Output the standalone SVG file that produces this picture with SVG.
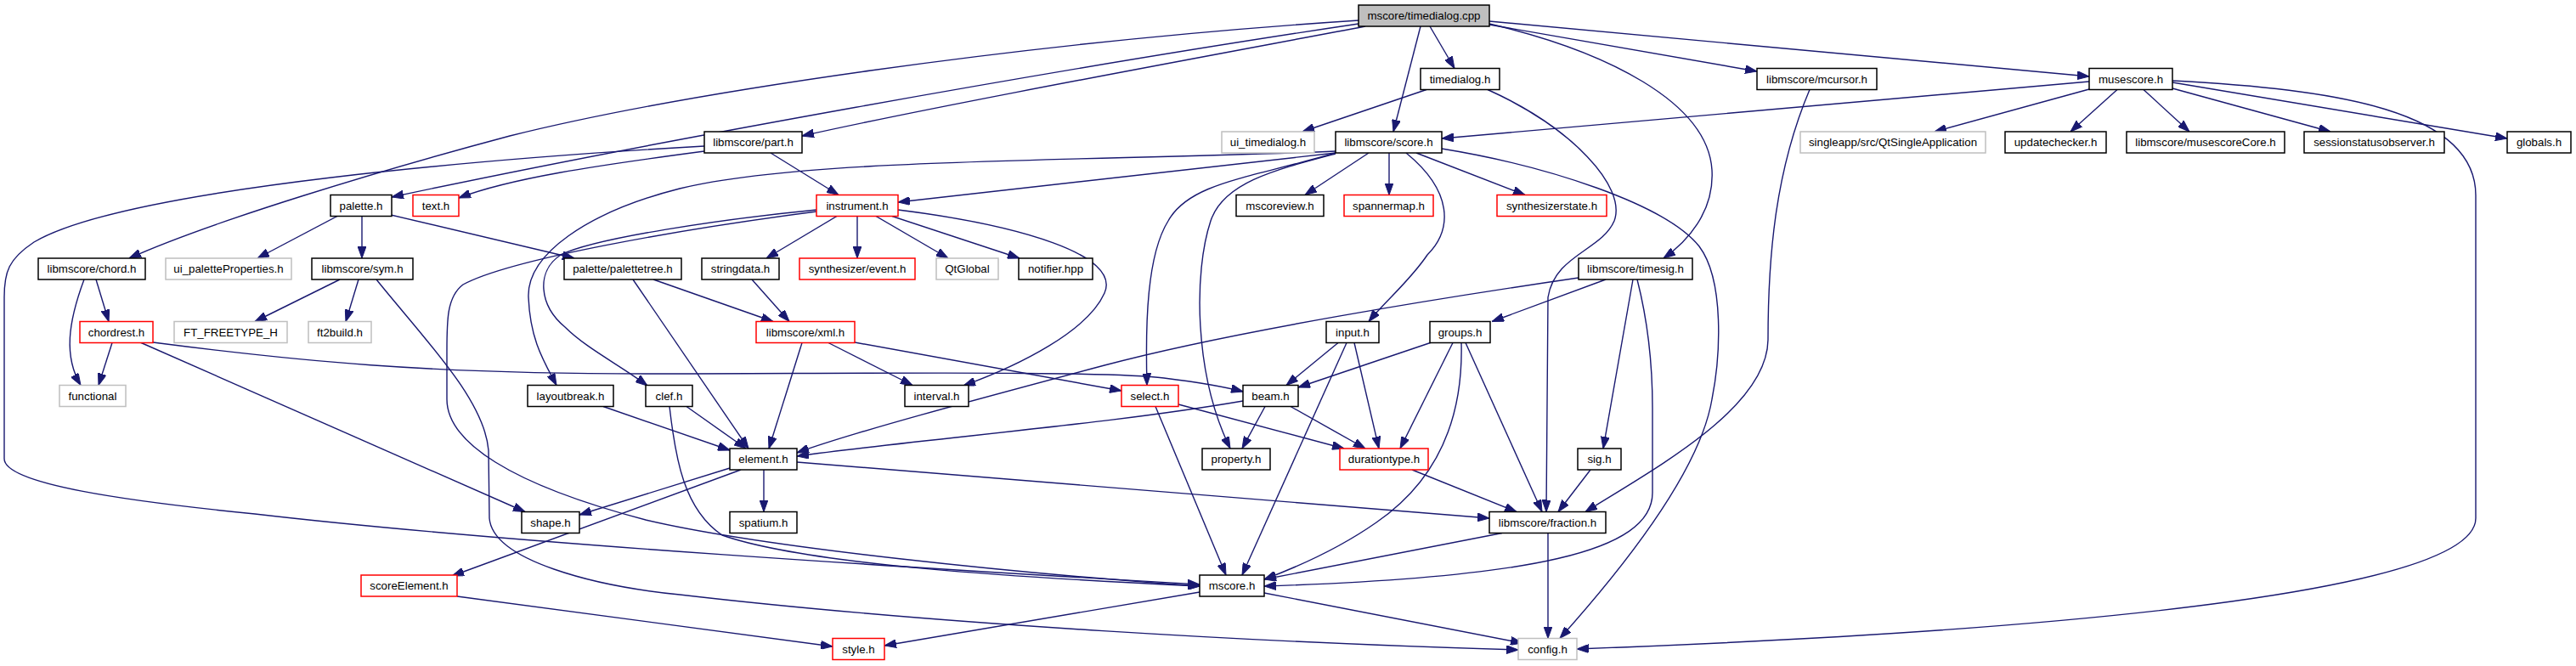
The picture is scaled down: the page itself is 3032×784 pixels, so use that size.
<svg xmlns="http://www.w3.org/2000/svg" width="3032" height="784" viewBox="0 0 3032 784">
<defs>
<style>
.n rect{fill:#ffffff;stroke:#000000;stroke-width:1.5}
.n.g rect{stroke:#bfbfbf}
.n.r rect{stroke:#ff0000}
.n.root rect{fill:#bfbfbf}
.n text{font-family:"Liberation Sans",Arial,sans-serif;font-size:13.3px;fill:#000000;text-anchor:middle}
#edges path{fill:none;stroke:#191970;stroke-width:1.4;marker-end:url(#arr)}
</style>
<marker id="arr" viewBox="0 0 14 10" refX="14" refY="5" markerWidth="14" markerHeight="10" markerUnits="userSpaceOnUse" orient="auto">
<path d="M0,0 L14,5 L0,10 z" fill="#191970" stroke="#191970" stroke-width="1"/>
</marker>
</defs>
<rect width="3032" height="784" fill="#ffffff"/>
<g id="edges">
<path d="M1683,31 L1712,80.5"/>
<path d="M1672,31 L1640,155"/>
<path d="M1753,29 L2068,84"/>
<path d="M1753,25 L2459,90"/>
<path d="M1753,28 C1890,60 2010,120 2015,200 C2018,250 1985,285 1958,304"/>
<path d="M1607,31 C1400,70 1100,125 944,160"/>
<path d="M1599,28 C1250,80 750,170 461,232"/>
<path d="M1599,24 C1200,50 800,110 600,160 C450,200 250,260 152,304"/>
<path d="M907,180 L987,229.5"/>
<path d="M829,178 C700,195 600,210 540,233"/>
<path d="M829,172 C600,185 150,220 40,285 C10,305 5,320 5,350 L5,540 C5,570 150,590 300,605 C600,640 1100,670 1412,688"/>
<path d="M985,254.5 L902,304"/>
<path d="M1009,254.5 L1009,304"/>
<path d="M1031,254.5 L1116,304"/>
<path d="M1050,254.5 L1200,304"/>
<path d="M1057,247 C1200,265 1320,300 1300,345 C1280,390 1200,430 1134,454"/>
<path d="M961,247 C850,258 700,280 660,300 C630,320 635,360 665,385 C690,410 730,430 762,454"/>
<path d="M961,249 C800,270 600,305 545,335 C525,350 526,380 526,420 L526,470 C526,520 600,570 760,612 C900,645 1200,675 1412,690"/>
<path d="M1611,180 L1536,229.5"/>
<path d="M1635,180 L1635,229.5"/>
<path d="M1667,180 L1795,229.5"/>
<path d="M1655,180 C1710,225 1710,270 1680,300 C1660,330 1630,355 1611,378.5"/>
<path d="M1697,175 C1820,195 1960,240 2000,290 C2030,330 2025,420 2015,470 C2000,560 1900,680 1836,751.5"/>
<path d="M1572,178 C1300,190 950,185 800,222 C690,250 620,300 622,350 C624,400 640,425 655,453.5"/>
<path d="M1572,180 L1057,238"/>
<path d="M1572,180 C1470,210 1400,215 1375,260 C1350,300 1348,380 1350,453.5"/>
<path d="M1572,181 C1500,200 1440,215 1425,260 C1405,320 1405,440 1448,528"/>
<path d="M2459,96 L1697,163"/>
<path d="M2459,105 L2277,155"/>
<path d="M2492,105.5 L2437,155"/>
<path d="M2523,105.5 L2577,155"/>
<path d="M2557,104 L2743,155"/>
<path d="M2557,97 L2951,163"/>
<path d="M2557,95 C2750,105 2914,130 2914,230 L2914,610 C2914,690 2500,740 1856,764"/>
<path d="M2130,105.5 C2090,200 2081,300 2081,400 C2080,480 1950,550 1866,602.5"/>
<path d="M1679,105.5 L1533,155"/>
<path d="M1751,105.5 C1850,150 1915,220 1900,260 C1885,295 1830,300 1822,350 L1820,602.5"/>
<path d="M1890,329 L1756,378.5"/>
<path d="M1858,327 C1700,350 1450,390 1300,430 C1150,470 1000,510 938,533"/>
<path d="M1922,329 L1887,528"/>
<path d="M1927,329 C1940,380 1945,430 1945,480 L1945,580 C1945,650 1800,680 1488,690"/>
<path d="M1575,403.5 L1514,453.5"/>
<path d="M1594,403.5 L1623,528"/>
<path d="M1585,403.5 L1462,677"/>
<path d="M1685,403 L1528,456"/>
<path d="M1710,403.5 L1648,528"/>
<path d="M1720,403.5 C1722,480 1700,560 1620,615 C1570,650 1520,670 1488,682"/>
<path d="M1725,403.5 L1815,602.5"/>
<path d="M1519,478.5 L1607,528"/>
<path d="M1489,478.5 L1462,528"/>
<path d="M1463,472 C1300,500 1100,515 938,537"/>
<path d="M1387,476 L1582,528"/>
<path d="M1360,478.5 L1443,677"/>
<path d="M1662,553 L1785,602.5"/>
<path d="M1872,553 L1834,602.5"/>
<path d="M1768,627.5 L1488,682"/>
<path d="M1822,627.5 L1822,751.5"/>
<path d="M1488,698 L1792,757"/>
<path d="M1412,697 L1041,760"/>
<path d="M538,702 C700,725 850,745 980,761"/>
<path d="M899,553 L899,602.5"/>
<path d="M859,551 L682,606"/>
<path d="M872,553 L532,678"/>
<path d="M938,544 L1753,610"/>
<path d="M808,478.5 L878,528"/>
<path d="M788,478.5 C795,540 805,600 850,630 C950,665 1200,680 1412,690"/>
<path d="M710,478.5 L859,530"/>
<path d="M975,403.5 L1074,453.5"/>
<path d="M944,403.5 L905,528"/>
<path d="M1006,403 L1320,460"/>
<path d="M769,329 L910,378.5"/>
<path d="M745,329 L881,528"/>
<path d="M885,329 L929,378.5"/>
<path d="M397,254.5 L303,304"/>
<path d="M426,254.5 L426,304"/>
<path d="M460,253 L676,304"/>
<path d="M400,329 L300,378.5"/>
<path d="M422,329 L407,378.5"/>
<path d="M443,329 C500,400 570,470 575,530 L576,610 C580,660 700,690 800,700 C1100,735 1500,757 1787,765"/>
<path d="M113,329 L128,378.5"/>
<path d="M99,329 C80,380 75,420 95,453.5"/>
<path d="M132,403.5 L116,453.5"/>
<path d="M165,403 L618,602.5"/>
<path d="M180,403 C350,425 500,440 760,440 C1000,440 1300,436 1370,445 C1410,450 1440,455 1463,461"/>
</g>
<g id="n_cpp" class="n root"><rect x="1599" y="6" width="154" height="25"/><text x="1676" y="23">mscore/timedialog.cpp</text></g>
<g id="n_tdh" class="n"><rect x="1672" y="80.5" width="93" height="25"/><text x="1718.5" y="97.5">timedialog.h</text></g>
<g id="n_mcursor" class="n"><rect x="2068" y="80.5" width="141" height="25"/><text x="2138.5" y="97.5">libmscore/mcursor.h</text></g>
<g id="n_musescore" class="n"><rect x="2459" y="80.5" width="98" height="25"/><text x="2508" y="97.5">musescore.h</text></g>
<g id="n_part" class="n"><rect x="829" y="155" width="115" height="25"/><text x="886.5" y="172">libmscore/part.h</text></g>
<g id="n_uitd" class="n g"><rect x="1438" y="155" width="109" height="25"/><text x="1492.5" y="172">ui_timedialog.h</text></g>
<g id="n_score" class="n"><rect x="1572" y="155" width="125" height="25"/><text x="1634.5" y="172">libmscore/score.h</text></g>
<g id="n_qtsa" class="n g"><rect x="2119" y="155" width="218" height="25"/><text x="2228" y="172">singleapp/src/QtSingleApplication</text></g>
<g id="n_upd" class="n"><rect x="2360" y="155" width="119" height="25"/><text x="2419.5" y="172">updatechecker.h</text></g>
<g id="n_msc" class="n"><rect x="2503" y="155" width="186" height="25"/><text x="2596" y="172">libmscore/musescoreCore.h</text></g>
<g id="n_sess" class="n"><rect x="2712" y="155" width="165" height="25"/><text x="2794.5" y="172">sessionstatusobserver.h</text></g>
<g id="n_glob" class="n"><rect x="2951" y="155" width="75" height="25"/><text x="2988.5" y="172">globals.h</text></g>
<g id="n_palette" class="n"><rect x="389" y="229.5" width="72" height="25"/><text x="425" y="246.5">palette.h</text></g>
<g id="n_text" class="n r"><rect x="486" y="229.5" width="54" height="25"/><text x="513" y="246.5">text.h</text></g>
<g id="n_instr" class="n r"><rect x="961" y="229.5" width="96" height="25"/><text x="1009" y="246.5">instrument.h</text></g>
<g id="n_mview" class="n"><rect x="1455" y="229.5" width="103" height="25"/><text x="1506.5" y="246.5">mscoreview.h</text></g>
<g id="n_span" class="n r"><rect x="1582" y="229.5" width="105" height="25"/><text x="1634.5" y="246.5">spannermap.h</text></g>
<g id="n_synst" class="n r"><rect x="1762" y="229.5" width="129" height="25"/><text x="1826.5" y="246.5">synthesizerstate.h</text></g>
<g id="n_chord" class="n"><rect x="45" y="304" width="126" height="25"/><text x="108" y="321">libmscore/chord.h</text></g>
<g id="n_uipp" class="n g"><rect x="195" y="304" width="148" height="25"/><text x="269" y="321">ui_paletteProperties.h</text></g>
<g id="n_sym" class="n"><rect x="367" y="304" width="119" height="25"/><text x="426.5" y="321">libmscore/sym.h</text></g>
<g id="n_ptree" class="n"><rect x="664" y="304" width="138" height="25"/><text x="733" y="321">palette/palettetree.h</text></g>
<g id="n_sdata" class="n"><rect x="826" y="304" width="91" height="25"/><text x="871.5" y="321">stringdata.h</text></g>
<g id="n_event" class="n r"><rect x="941" y="304" width="136" height="25"/><text x="1009" y="321">synthesizer/event.h</text></g>
<g id="n_qtg" class="n g"><rect x="1102" y="304" width="73" height="25"/><text x="1138.5" y="321">QtGlobal</text></g>
<g id="n_notif" class="n"><rect x="1199" y="304" width="87" height="25"/><text x="1242.5" y="321">notifier.hpp</text></g>
<g id="n_timesig" class="n"><rect x="1858" y="304" width="134" height="25"/><text x="1925" y="321">libmscore/timesig.h</text></g>
<g id="n_chordrest" class="n r"><rect x="94" y="378.5" width="86" height="25"/><text x="137" y="395.5">chordrest.h</text></g>
<g id="n_ft" class="n g"><rect x="205" y="378.5" width="133" height="25"/><text x="271.5" y="395.5">FT_FREETYPE_H</text></g>
<g id="n_ft2" class="n g"><rect x="363" y="378.5" width="74" height="25"/><text x="400" y="395.5">ft2build.h</text></g>
<g id="n_xml" class="n r"><rect x="890" y="378.5" width="116" height="25"/><text x="948" y="395.5">libmscore/xml.h</text></g>
<g id="n_input" class="n"><rect x="1561" y="378.5" width="62" height="25"/><text x="1592" y="395.5">input.h</text></g>
<g id="n_groups" class="n"><rect x="1683" y="378.5" width="71" height="25"/><text x="1718.5" y="395.5">groups.h</text></g>
<g id="n_func" class="n g"><rect x="70" y="453.5" width="78" height="25"/><text x="109" y="470.5">functional</text></g>
<g id="n_lbreak" class="n"><rect x="621" y="453.5" width="101" height="25"/><text x="671.5" y="470.5">layoutbreak.h</text></g>
<g id="n_clef" class="n"><rect x="760" y="453.5" width="55" height="25"/><text x="787.5" y="470.5">clef.h</text></g>
<g id="n_interval" class="n"><rect x="1065" y="453.5" width="75" height="25"/><text x="1102.5" y="470.5">interval.h</text></g>
<g id="n_select" class="n r"><rect x="1320" y="453.5" width="67" height="25"/><text x="1353.5" y="470.5">select.h</text></g>
<g id="n_beam" class="n"><rect x="1463" y="453.5" width="65" height="25"/><text x="1495.5" y="470.5">beam.h</text></g>
<g id="n_element" class="n"><rect x="859" y="528" width="79" height="25"/><text x="898.5" y="545">element.h</text></g>
<g id="n_prop" class="n"><rect x="1415" y="528" width="80" height="25"/><text x="1455" y="545">property.h</text></g>
<g id="n_dur" class="n r"><rect x="1577" y="528" width="104" height="25"/><text x="1629" y="545">durationtype.h</text></g>
<g id="n_sig" class="n"><rect x="1857" y="528" width="51" height="25"/><text x="1882.5" y="545">sig.h</text></g>
<g id="n_shape" class="n"><rect x="614" y="602.5" width="68" height="25"/><text x="648" y="619.5">shape.h</text></g>
<g id="n_spatium" class="n"><rect x="859" y="602.5" width="79" height="25"/><text x="898.5" y="619.5">spatium.h</text></g>
<g id="n_fraction" class="n"><rect x="1753" y="602.5" width="137" height="25"/><text x="1821.5" y="619.5">libmscore/fraction.h</text></g>
<g id="n_scoreel" class="n r"><rect x="425" y="677" width="113" height="25"/><text x="481.5" y="694">scoreElement.h</text></g>
<g id="n_mscore" class="n"><rect x="1412" y="677" width="76" height="25"/><text x="1450" y="694">mscore.h</text></g>
<g id="n_style" class="n r"><rect x="980" y="751.5" width="61" height="25"/><text x="1010.5" y="768.5">style.h</text></g>
<g id="n_config" class="n g"><rect x="1787" y="751.5" width="69" height="25"/><text x="1821.5" y="768.5">config.h</text></g>
</svg>
